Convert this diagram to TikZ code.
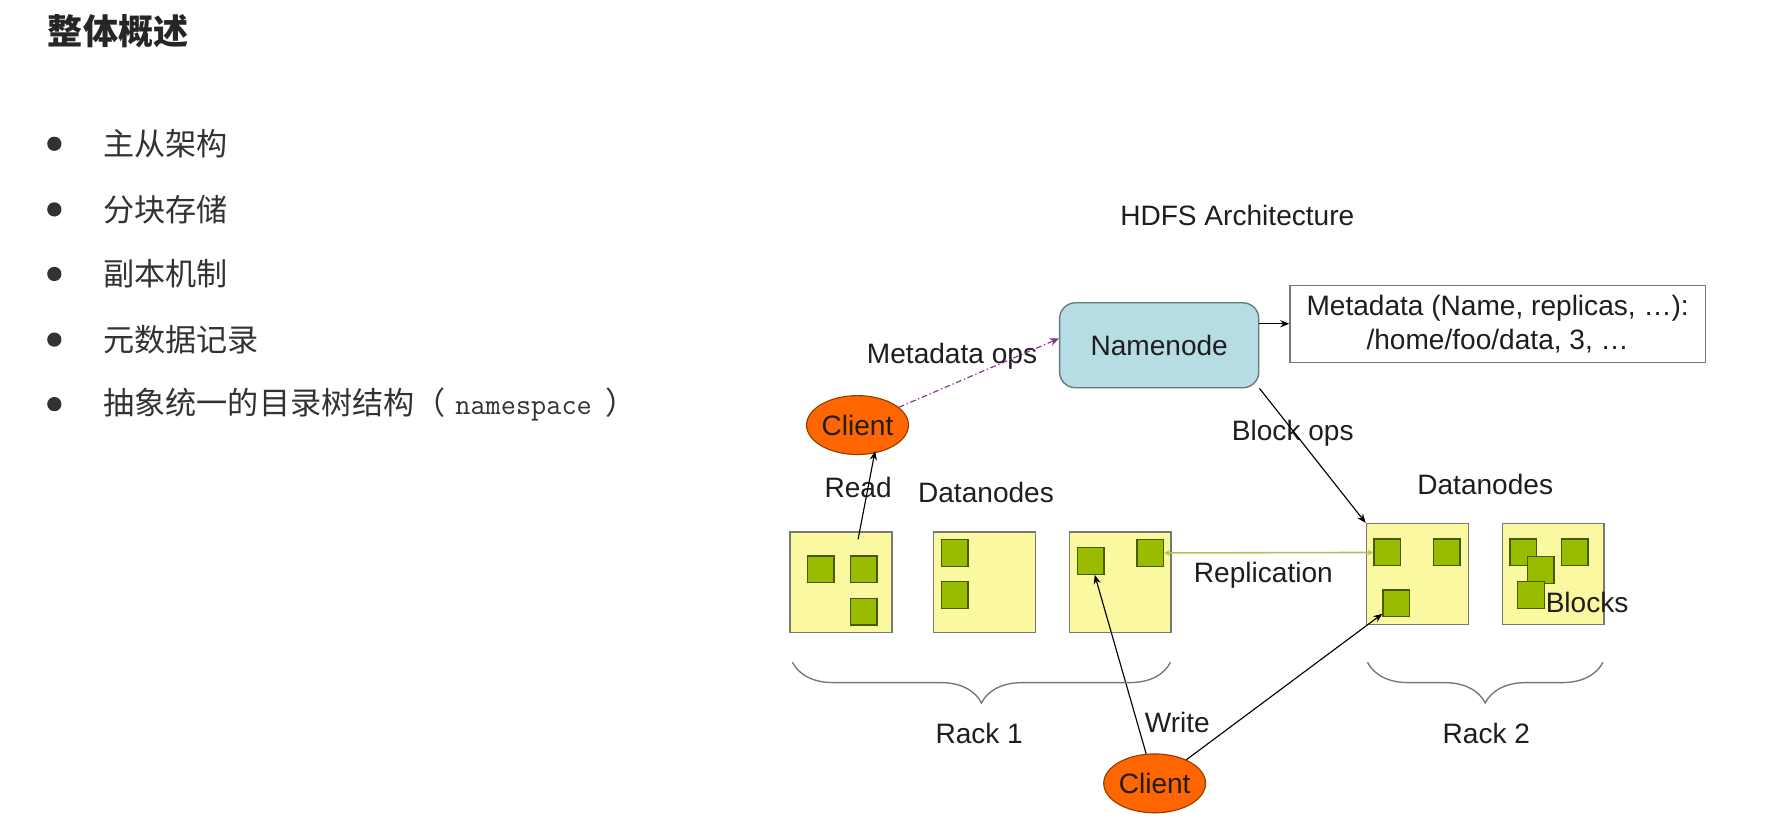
\documentclass[tikz,border=0pt]{standalone}
\usepackage{fontspec}
\setmainfont{Liberation Sans}
\newfontfamily\cjk{Noto Sans CJK SC}
\usepackage{xcolor}
\usepackage{tikz}
\usetikzlibrary{shapes,arrows,arrows.meta,positioning,decorations.pathreplacing}

\definecolor{nnfill}{RGB}{183,221,228}
\definecolor{nnline}{RGB}{100,120,125}
\definecolor{dnfill}{RGB}{250,248,160}
\definecolor{dnline}{RGB}{120,120,110}
\definecolor{blkfill}{RGB}{153,187,0}
\definecolor{blkline}{RGB}{70,90,0}
\definecolor{clfill}{RGB}{255,102,0}
\definecolor{clline}{RGB}{150,60,0}
\definecolor{metaop}{RGB}{128,50,140}
\definecolor{repl}{RGB}{170,200,90}
\definecolor{txt}{RGB}{30,30,30}
\definecolor{itemtxt}{RGB}{50,50,50}

\begin{document}
\begin{tikzpicture}[
    x=0.5pt, y=-0.5pt,
    font=\fontsize{12.4}{14.9}\selectfont, text=txt,
    namebox/.style={draw=nnline, fill=nnfill, rounded corners=7pt, minimum width=88pt, minimum height=37.5pt, line width=0.6pt},
    metabox/.style={draw=dnline, fill=white, minimum width=183.5pt, minimum height=34pt, align=center, inner sep=0pt, line width=0.6pt},
    client/.style={draw=clline, fill=clfill, ellipse, minimum width=45pt, minimum height=26pt, inner sep=0pt, line width=0.5pt},
    datanode/.style={draw=dnline, fill=dnfill, minimum width=45pt, minimum height=44.5pt, inner sep=0pt, line width=0.6pt},
    block/.style={draw=blkline, fill=blkfill, minimum size=11.75pt, inner sep=0pt, line width=0.6pt},
    lbl/.style={inner sep=0pt},
    dot/.style={circle, fill=itemtxt, minimum size=6.3pt, inner sep=0pt},
    item/.style={inner sep=0pt, anchor=west, text=itemtxt, font=\fontsize{13.75}{16}\cjk},
    arrow/.style={-{Stealth[length=4pt, width=3.2pt]}, line width=0.5pt},
    metaarrow/.style={-{Stealth[length=4pt, width=3.4pt]}, draw=metaop, line width=0.5pt, dash pattern=on 2.5pt off 1.2pt on 0.6pt off 1.2pt},
    replarrow/.style={{Stealth[length=2.5pt, width=2.5pt]}-{Stealth[length=2.5pt, width=2.5pt]}, draw=repl, line width=0.7pt},
    rackbrace/.style={decorate, decoration={brace, mirror, amplitude=18pt}, draw=dnline, line width=0.6pt}
]
    \useasboundingbox (0,0) rectangle (1568,733);

    % left column
    \node[lbl, anchor=west, text=black!85, font={\fontsize{15.5}{18}\cjk\bfseries}] (title) at (42,28) {整体概述};
    \foreach \y/\t [count=\i] in {127/主从架构, 185/分块存储, 242/副本机制, 300/元数据记录} {
        \node[dot] (dot\i) at (48,\y) {};
        \node[item] (item\i) at (91,\y) {\t};
    }
    \node[dot] (dot5) at (48,357) {};
    \node[item] (item5) at (91,357) {抽象统一的目录树结构（\hspace{4.2pt}{\ttfamily\fontsize{13}{15}\selectfont namespace}\hspace{6pt}）};

    % namenode
    \node[lbl] (arch) at (1093,190) {HDFS Architecture};
    \node[namebox] (nn) at (1024,305) {Namenode};
    \node[metabox] (meta) at (1323,286) {Metadata (Name, replicas, …):\\/home/foo/data, 3, …};
    \node[client] (client1) at (757.5,375.5) {Client};

    % datanodes, rack 1
    \node[datanode] (dn1) at (743,514.5) {};
    \node[datanode] (dn2) at (869.5,514.5) {};
    \node[datanode] (dn3) at (989.5,514.5) {};
    \node[block] (b11) at (725,503) {};
    \node[block] (b12) at (763,503) {};
    \node[block] (b13) at (763,540.5) {};
    \node[block] (b21) at (843.5,488.5) {};
    \node[block] (b22) at (843.5,525.5) {};
    \node[block] (b31) at (963.5,495.5) {};
    \node[block] (b32) at (1016,488.5) {};

    % datanodes, rack 2
    \node[datanode] (dn4) at (1252,507) {};
    \node[datanode] (dn5) at (1372,507) {};
    \node[block] (b41) at (1225.5,488) {};
    \node[block] (b42) at (1278,488) {};
    \node[block] (b43) at (1233.5,533) {};
    \node[block] (b51) at (1345.5,488) {};
    \node[block] (b52) at (1361,503.5) {};
    \node[block] (b53) at (1352.5,525.5) {};
    \node[block] (b54) at (1391,488) {};

    \node[client] (client2) at (1020,692) {Client};

    % labels
    \node[lbl] (metaops) at (841,315) {Metadata ops};
    \node[lbl] (blockops) at (1142,383) {Block ops};
    \node[lbl] (read) at (758,431) {Read};
    \node[lbl] (dnlbl1) at (871,435) {Datanodes};
    \node[lbl] (dnlbl2) at (1312,428) {Datanodes};
    \node[lbl] (replica) at (1116,508) {Replication};
    \node[lbl] (blocks) at (1402,532) {Blocks};
    \node[lbl] (write) at (1040,638) {Write};
    \node[lbl] (rack1) at (865,648) {Rack 1};
    \node[lbl] (rack2) at (1313,648) {Rack 2};

    % connectors
    \draw[arrow] (nn.east |- meta.west) -- (meta.west);
    \draw[metaarrow] (client1) -- ([yshift=3pt]nn.west);
    \draw[arrow] (nn.south east) -- (dn4.north west);
    \draw[arrow] ([xshift=7.5pt,yshift=-3.5pt]dn1.north) -- ([xshift=7.75pt,yshift=1.75pt]client1.south);
    \draw[replarrow] (b32) -- (b41);
    \draw[arrow] (client2) -- (b31);
    \draw[arrow] (client2) -- (b43);

    % racks
    \draw[rackbrace] (700,585) -- (1034,585);
    \draw[rackbrace] (1208,585) -- (1416,585);
\end{tikzpicture}
\end{document}
